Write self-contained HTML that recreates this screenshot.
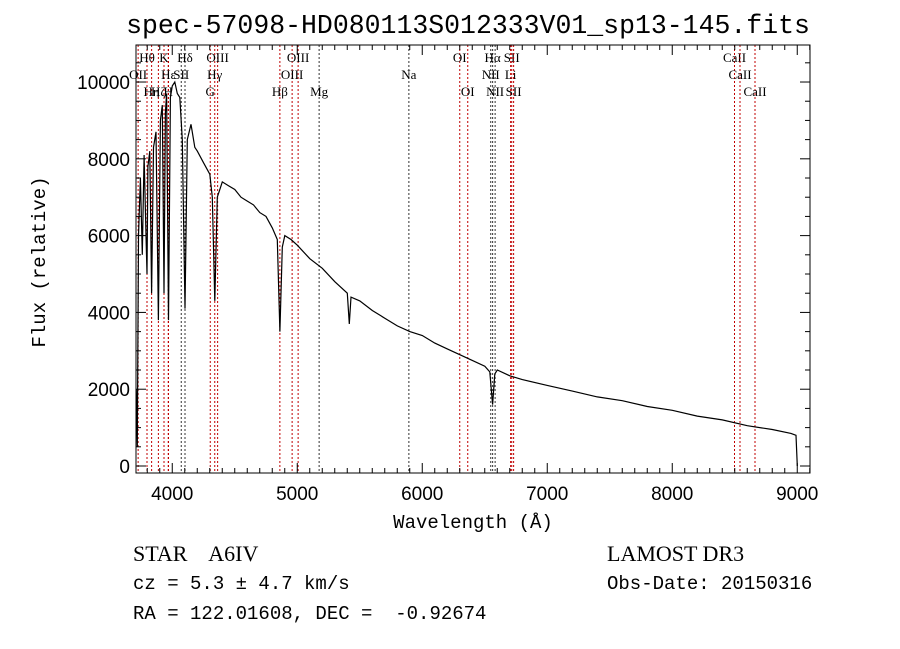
<!DOCTYPE html>
<html><head><meta charset="utf-8"><style>
body{margin:0;background:#fff}
svg{display:block}
text{font-family:"Liberation Serif",serif;fill:#000;white-space:pre}
.s{font-family:"Liberation Sans",sans-serif}
.m{font-family:"Liberation Mono",monospace}
</style></head><body>
<svg id="c" width="900" height="649" xmlns="http://www.w3.org/2000/svg" xml:space="preserve">
<text x="468" y="33" text-anchor="middle" class="m" font-size="26.5">spec-57098-HD080113S012333V01_sp13-145.fits</text>
<text x="45" y="262" text-anchor="middle" class="m" font-size="19" transform="rotate(-90 45 262)">Flux (relative)</text>
<text x="473" y="528" text-anchor="middle" class="m" font-size="19">Wavelength (Å)</text>
<text x="133" y="561" font-size="22">STAR    A6IV</text>
<text x="133" y="589" class="m" font-size="19">cz = 5.3 ± 4.7 km/s</text>
<text x="133" y="619" class="m" font-size="19">RA = 122.01608, DEC =  -0.92674</text>
<text x="607" y="561" font-size="22">LAMOST DR3</text>
<text x="607" y="589" class="m" font-size="19">Obs-Date: 20150316</text>
<g id="plot"></g>
</svg>
<script>
const wave=[3712,3720,3730,3745,3760,3775,3790,3798,3805,3820,3835,3850,3870,3889,3905,3920,3934,3945,3955,3970,3985,4000,4020,4040,4060,4080,4102,4120,4150,4180,4200,4250,4300,4320,4340,4360,4400,4450,4500,4550,4600,4650,4700,4750,4800,4840,4861,4880,4900,4950,5000,5100,5200,5300,5400,5416,5430,5500,5600,5700,5800,5900,6000,6100,6200,6300,6400,6500,6540,6563,6580,6600,6700,6800,7000,7200,7400,7600,7800,8000,8200,8400,8600,8800,8950,8990,9000];
const flux=[2000,500,6000,7500,5500,8100,6000,5000,7800,8200,4500,8300,8700,3800,9000,9400,4500,9200,9700,3800,9600,9900,10000,9700,9600,8500,4100,8500,8900,8300,8200,7900,7600,7000,4300,7000,7400,7300,7200,7000,6900,6800,6600,6500,6200,5900,3500,5700,6000,5900,5750,5400,5150,4800,4500,3700,4400,4300,4050,3850,3650,3500,3400,3200,3050,2900,2750,2600,2450,1600,2400,2500,2350,2250,2100,1950,1800,1700,1550,1450,1300,1200,1050,950,850,800,0];
const lineWave=[3727,3798,3835,3889,3934,3968,3970,4072,4102,4304,4340,4363,4861,4959,5007,5175,5893,6300,6364,6548,6563,6583,6707,6716,6731,8498,8542,8662];
const lineName=["OII","Hθ","Hη","Hζ","K","H","Hε","SII","Hδ","G","Hγ","OIII","Hβ","OIII","OIII","Mg","Na","OI","OI","NII","Hα","NII","Li","SII","SII","CaII","CaII","CaII"];
const lineRow=[1,0,2,2,0,2,1,1,0,2,1,0,2,1,0,2,1,0,2,1,0,2,1,0,2,0,1,2];
const lineBlack=[0,0,0,0,0,0,0,1,1,0,0,0,0,0,0,1,1,0,0,1,1,1,0,0,0,0,0,0];
const xTicks=[4000,5000,6000,7000,8000,9000];
const yTicks=[0,2000,4000,6000,8000,10000];
const L=136,R=810,T=45,B=473,X0=3710,X1=9102,Y0=-182,Y1=10964;
const sx=w=>L+(w-X0)/(X1-X0)*(R-L);
const sy=f=>B-(f-Y0)/(Y1-Y0)*(B-T);
const g=document.getElementById('plot');
const NS='http://www.w3.org/2000/svg';
function mk(tag,at){const e=document.createElementNS(NS,tag);for(const k in at)e.setAttribute(k,at[k]);g.appendChild(e);return e;}
lineWave.forEach((w,i)=>{const x=sx(w);
const l=mk('line',{x1:x,x2:x,y1:T,y2:B,stroke:lineBlack[i]?'#333':'#c00000','stroke-width':1,'stroke-dasharray':'2,2'});


const t=mk('text',{x:x,y:62+lineRow[i]*17,'text-anchor':'middle','font-size':13});t.textContent=lineName[i];

});
let d='';wave.forEach((w,i)=>{d+=(i?'L':'M')+sx(w).toFixed(1)+','+sy(flux[i]).toFixed(1);});
const p=mk('path',{d:d,fill:'none',stroke:'#000','stroke-width':1.2});


const ax=mk('rect',{x:L,y:T,width:R-L,height:B-T,fill:'none',stroke:'#000','stroke-width':1});


for(let w=3800;w<=9100;w+=100){const x=sx(w),len=(w%1000===0)?10:5;
mk('line',{x1:x,x2:x,y1:B,y2:B-len,stroke:'#000'});mk('line',{x1:x,x2:x,y1:T,y2:T+len,stroke:'#000'});}
for(let f=0;f<=10500;f+=500){const y=sy(f),len=(f%2000===0)?10:5;
mk('line',{x1:L,x2:L+len,y1:y,y2:y,stroke:'#000'});mk('line',{x1:R,x2:R-len,y1:y,y2:y,stroke:'#000'});}
xTicks.forEach(w=>{const t=mk('text',{x:sx(w),y:B+27,'text-anchor':'middle','font-size':19,class:'s'});t.textContent=w;

});
yTicks.forEach(f=>{const t=mk('text',{x:L-6,y:sy(f)+7,'text-anchor':'end','font-size':19,class:'s'});t.textContent=f;

});
</script>
</body></html>
